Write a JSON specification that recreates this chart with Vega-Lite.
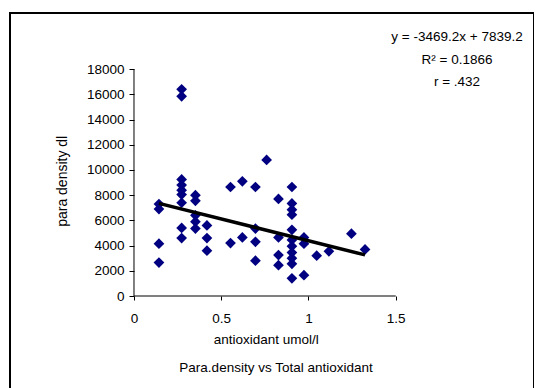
{
  "$schema": "https://vega.github.io/schema/vega-lite/v6.json",
  "width": 524,
  "height": 380,
  "autosize": "none",
  "padding": {"left": 10, "top": 13, "right": 0, "bottom": 0},
  "background": "white",
  "config": {
    "view": {"stroke": "black", "strokeWidth": 2},
    "font": "Liberation Sans",
    "axis": {"grid": false, "domain": false, "tickColor": "black", "labelColor": "black", "titleColor": "black", "labelFontSize": 13.5, "titleFontSize": 13.5, "titleFontWeight": "normal", "labelFlush": false, "labelOverlap": false}
  },
  "datasets": {
    "points": [
      {"antioxidant": 0.143, "density": 7300}, {"antioxidant": 0.143, "density": 6900}, {"antioxidant": 0.143, "density": 4150}, {"antioxidant": 0.143, "density": 2650},
      {"antioxidant": 0.273, "density": 16400}, {"antioxidant": 0.273, "density": 15850}, {"antioxidant": 0.273, "density": 9250}, {"antioxidant": 0.273, "density": 8800}, {"antioxidant": 0.273, "density": 8400}, {"antioxidant": 0.273, "density": 8050}, {"antioxidant": 0.273, "density": 7400}, {"antioxidant": 0.273, "density": 5400}, {"antioxidant": 0.273, "density": 4600},
      {"antioxidant": 0.352, "density": 8000}, {"antioxidant": 0.352, "density": 7550}, {"antioxidant": 0.352, "density": 6400}, {"antioxidant": 0.352, "density": 5900}, {"antioxidant": 0.352, "density": 5350},
      {"antioxidant": 0.418, "density": 5600}, {"antioxidant": 0.418, "density": 4600}, {"antioxidant": 0.418, "density": 3600},
      {"antioxidant": 0.553, "density": 8650}, {"antioxidant": 0.553, "density": 4200},
      {"antioxidant": 0.621, "density": 9100}, {"antioxidant": 0.621, "density": 4650},
      {"antioxidant": 0.696, "density": 8650}, {"antioxidant": 0.696, "density": 5350}, {"antioxidant": 0.696, "density": 4300}, {"antioxidant": 0.696, "density": 2800},
      {"antioxidant": 0.76, "density": 10800},
      {"antioxidant": 0.828, "density": 7700}, {"antioxidant": 0.828, "density": 4650}, {"antioxidant": 0.828, "density": 3250}, {"antioxidant": 0.828, "density": 2450},
      {"antioxidant": 0.905, "density": 8650}, {"antioxidant": 0.905, "density": 7350}, {"antioxidant": 0.905, "density": 6850}, {"antioxidant": 0.905, "density": 6450}, {"antioxidant": 0.905, "density": 5250}, {"antioxidant": 0.905, "density": 4450}, {"antioxidant": 0.905, "density": 3950}, {"antioxidant": 0.905, "density": 3450}, {"antioxidant": 0.905, "density": 3000}, {"antioxidant": 0.905, "density": 2550}, {"antioxidant": 0.905, "density": 1400},
      {"antioxidant": 0.974, "density": 4650}, {"antioxidant": 0.974, "density": 4150}, {"antioxidant": 0.974, "density": 1650},
      {"antioxidant": 1.047, "density": 3200},
      {"antioxidant": 1.117, "density": 3550},
      {"antioxidant": 1.246, "density": 4950},
      {"antioxidant": 1.324, "density": 3700}
    ],
    "trend": [
      {"antioxidant": 0.143, "density": 7350},
      {"antioxidant": 1.324, "density": 3260}
    ]
  },
  "layer": [
    {
      "data": {"name": "points"},
      "mark": {"type": "point", "shape": "diamond", "filled": true, "color": "#000080", "size": 115, "opacity": 1},
      "encoding": {
        "x": {
          "field": "antioxidant", "type": "quantitative",
          "scale": {"domain": [-0.7106, 2.2923], "nice": false, "zero": false},
          "axis": {"values": [0, 0.5, 1, 1.5], "format": "~g", "offset": -97, "tickSize": 4, "labelPadding": 22.7, "labelBaseline": "alphabetic", "title": "antioxidant umol/l", "titleX": 255.8, "titleY": 47.3, "titleBaseline": "alphabetic", "titleAnchor": null}
        },
        "y": {
          "field": "density", "type": "quantitative",
          "scale": {"domain": [-7698, 22460], "nice": false, "zero": false},
          "axis": {"values": [0, 2000, 4000, 6000, 8000, 10000, 12000, 14000, 16000, 18000], "format": "d", "offset": -124, "tickSize": 5, "labelPadding": 5, "title": "para density dl", "titleX": -71.4, "titleY": 167.8, "titleBaseline": "middle", "titleAngle": 270, "titleFontSize": 14}
        }
      }
    },
    {
      "data": {"name": "trend"},
      "mark": {"type": "line", "color": "black", "strokeWidth": 3.5},
      "encoding": {
        "x": {"field": "antioxidant", "type": "quantitative", "title": "antioxidant umol/l"},
        "y": {"field": "density", "type": "quantitative", "title": "para density dl"}
      }
    },
    {
      "data": {"values": [{}]},
      "mark": {"type": "rule", "color": "black", "strokeWidth": 1},
      "encoding": {"x": {"datum": 0}, "x2": {"datum": 1.5}, "y": {"datum": 0}}
    },
    {
      "data": {"values": [{}]},
      "mark": {"type": "rule", "color": "black", "strokeWidth": 1},
      "encoding": {"x": {"datum": 0}, "y": {"datum": 0}, "y2": {"datum": 18000}}
    },
    {
      "data": {"values": [{}]},
      "mark": {"type": "text", "text": ["y = -3469.2x + 7839.2", "R² = 0.1866", "r = .432"], "align": "center", "baseline": "alphabetic", "fontSize": 13.5, "lineHeight": 22.4, "color": "black"},
      "encoding": {"x": {"datum": 1.851}, "y": {"datum": 20206}}
    },
    {
      "data": {"values": [{}]},
      "mark": {"type": "text", "text": "Para.density vs Total antioxidant", "align": "center", "baseline": "alphabetic", "fontSize": 13.5, "color": "black"},
      "encoding": {"x": {"datum": 0.814}, "y": {"datum": -6063}}
    }
  ]
}
